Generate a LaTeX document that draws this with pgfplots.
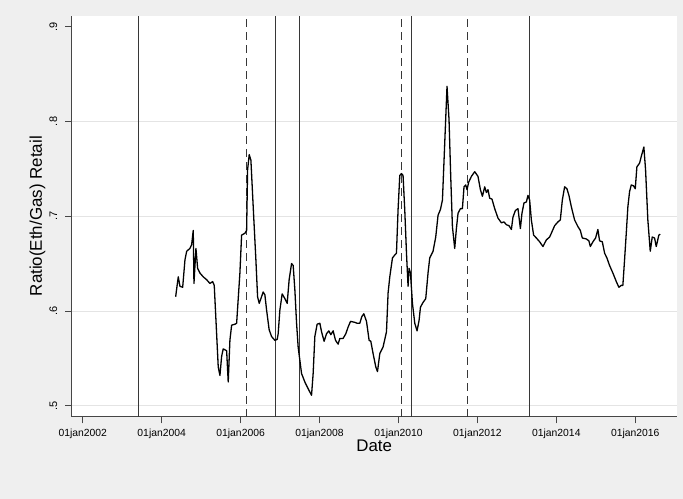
\documentclass[border=0pt]{standalone}
\usepackage{fontspec}
\setmainfont{Liberation Sans}
\usepackage{pgfplots}
\pgfplotsset{compat=1.18}
\definecolor{bggray}{RGB}{239,239,239}
\definecolor{gridgray}{RGB}{228,228,228}
\definecolor{axgray}{RGB}{70,70,70}
\definecolor{vlgray}{RGB}{55,55,55}
\begin{document}
\begin{tikzpicture}
\fill[bggray] (-71.7bp,-82.3bp) rectangle (611.3bp,416.7bp);
\begin{axis}[
  scale only axis,
  width=605bp, height=401bp,
  xmin=2001.72, xmax=2017.05,
  ymin=0.4884, ymax=0.9116,
  enlargelimits=false,
  axis background/.style={fill=white},
  axis lines*=left,
  axis line style={-, draw=axgray, line width=0.9bp},
  tick style={draw=axgray, line width=0.9bp},
  tick align=outside,
  major tick length=6.7bp,
  xtick={2002,2004,2006,2008,2010,2012,2014,2016},
  xticklabels={01jan2002,01jan2004,01jan2006,01jan2008,01jan2010,01jan2012,01jan2014,01jan2016},
  ytick={0.5,0.6,0.7,0.8},
  yticklabels={.5,.6,.7,.8},
  extra y ticks={0.9},
  extra y tick labels={.9},
  extra y tick style={ymajorgrids=false},
  ymajorgrids,
  major grid style={draw=gridgray, line width=0.9bp},
  xticklabel style={font=\fontsize{10.4}{12}\selectfont, anchor=north, inner sep=0pt},
  xticklabel shift=5bp,
  yticklabel style={font=\fontsize{11}{12}\selectfont, rotate=90, anchor=base, inner sep=0pt},
  yticklabel shift=8bp,
  /pgf/number format/assume math mode=true,
  xlabel={Date},
  xlabel style={font=\fontsize{16.9}{19}\selectfont, at={(axis description cs:0.5,-0.0880)}, anchor=base, inner sep=0pt},
  ylabel={Ratio(Eth/Gas) Retail},
  ylabel style={font=\fontsize{17}{19}\selectfont, at={(axis description cs:-0.0491,0.5)}, rotate=0, anchor=base, inner sep=0pt},
  clip=true,
]
% vertical event lines (solid)
\addplot[vlgray, line width=1bp] coordinates {(2003.41,0.4884) (2003.41,0.9116)};
\addplot[vlgray, line width=1bp] coordinates {(2006.886,0.4884) (2006.886,0.9116)};
\addplot[vlgray, line width=1bp] coordinates {(2007.494,0.4884) (2007.494,0.9116)};
\addplot[vlgray, line width=1bp] coordinates {(2010.337,0.4884) (2010.337,0.9116)};
\addplot[vlgray, line width=1bp] coordinates {(2013.324,0.4884) (2013.324,0.9116)};
% vertical event lines (dashed, reductions)
\addplot[vlgray, line width=1bp, dash pattern=on 8bp off 5bp] coordinates {(2006.159,0.4884) (2006.159,0.9116)};
\addplot[vlgray, line width=1bp, dash pattern=on 8bp off 5bp] coordinates {(2010.084,0.4884) (2010.084,0.9116)};
\addplot[vlgray, line width=1bp, dash pattern=on 8bp off 5bp] coordinates {(2011.747,0.4884) (2011.747,0.9116)};
% ratio series
\addplot[black, line width=1.3bp, line join=round] coordinates {
(2004.354,0.615) (2004.420,0.636) (2004.463,0.626) (2004.532,0.625) (2004.590,0.654)
(2004.633,0.663) (2004.716,0.666) (2004.759,0.670) (2004.800,0.685) (2004.818,0.629)
(2004.868,0.666) (2004.911,0.645) (2004.970,0.640) (2005.053,0.636) (2005.139,0.633)
(2005.223,0.629) (2005.291,0.631) (2005.332,0.627) (2005.392,0.576) (2005.433,0.541)
(2005.476,0.532) (2005.519,0.552) (2005.559,0.560) (2005.646,0.558) (2005.686,0.525)
(2005.729,0.569) (2005.772,0.585) (2005.856,0.586) (2005.899,0.587) (2005.982,0.640)
(2006.025,0.680) (2006.109,0.682) (2006.152,0.685) (2006.177,0.749) (2006.218,0.765)
(2006.261,0.759) (2006.319,0.710) (2006.387,0.654) (2006.430,0.615) (2006.471,0.608)
(2006.514,0.613) (2006.572,0.620) (2006.615,0.617) (2006.658,0.601) (2006.724,0.580)
(2006.785,0.573) (2006.868,0.569) (2006.927,0.570) (2006.952,0.576) (2006.995,0.601)
(2007.053,0.618) (2007.122,0.613) (2007.180,0.608) (2007.230,0.633) (2007.291,0.650)
(2007.332,0.648) (2007.375,0.622) (2007.418,0.587) (2007.458,0.562) (2007.544,0.534)
(2007.628,0.525) (2007.711,0.518) (2007.797,0.511) (2007.838,0.534) (2007.881,0.573)
(2007.939,0.586) (2008.008,0.587) (2008.051,0.578) (2008.116,0.568) (2008.177,0.576)
(2008.235,0.579) (2008.286,0.575) (2008.344,0.579) (2008.405,0.569) (2008.471,0.565)
(2008.514,0.571) (2008.597,0.571) (2008.666,0.576) (2008.724,0.583) (2008.785,0.589)
(2008.894,0.588) (2008.952,0.587) (2009.020,0.587) (2009.071,0.594) (2009.122,0.597)
(2009.190,0.589) (2009.256,0.569) (2009.299,0.568) (2009.357,0.555) (2009.425,0.541)
(2009.468,0.536) (2009.527,0.555) (2009.610,0.562) (2009.696,0.578) (2009.737,0.619)
(2009.780,0.636) (2009.848,0.656) (2009.906,0.659) (2009.949,0.661) (2009.990,0.707)
(2010.033,0.743) (2010.076,0.745) (2010.116,0.743) (2010.159,0.707) (2010.203,0.661)
(2010.243,0.626) (2010.268,0.645) (2010.304,0.640) (2010.354,0.608) (2010.413,0.587)
(2010.471,0.579) (2010.522,0.590) (2010.557,0.604) (2010.623,0.609) (2010.691,0.613)
(2010.749,0.640) (2010.792,0.656) (2010.876,0.663) (2010.944,0.678) (2011.003,0.701)
(2011.063,0.707) (2011.114,0.717) (2011.172,0.777) (2011.230,0.837) (2011.281,0.802)
(2011.324,0.742) (2011.367,0.689) (2011.425,0.666) (2011.468,0.687) (2011.509,0.703)
(2011.570,0.708) (2011.620,0.708) (2011.661,0.731) (2011.704,0.733) (2011.737,0.728)
(2011.780,0.736) (2011.848,0.742) (2011.932,0.747) (2012.015,0.742) (2012.076,0.728)
(2012.127,0.721) (2012.185,0.731) (2012.228,0.725) (2012.268,0.728) (2012.311,0.719)
(2012.370,0.718) (2012.438,0.708) (2012.522,0.698) (2012.608,0.693) (2012.673,0.694)
(2012.734,0.691) (2012.800,0.690) (2012.861,0.686) (2012.901,0.699) (2012.962,0.706)
(2013.028,0.708) (2013.089,0.687) (2013.129,0.703) (2013.180,0.714) (2013.241,0.715)
(2013.281,0.722) (2013.324,0.717) (2013.367,0.696) (2013.425,0.680) (2013.494,0.677)
(2013.577,0.673) (2013.661,0.668) (2013.747,0.675) (2013.830,0.678) (2013.873,0.682)
(2013.957,0.690) (2014.041,0.694) (2014.101,0.696) (2014.152,0.717) (2014.210,0.731)
(2014.268,0.729) (2014.319,0.722) (2014.380,0.710) (2014.463,0.696) (2014.547,0.689)
(2014.608,0.685) (2014.658,0.677) (2014.759,0.676) (2014.825,0.674) (2014.861,0.668)
(2014.927,0.673) (2014.995,0.677) (2015.053,0.686) (2015.096,0.674) (2015.165,0.673)
(2015.223,0.661) (2015.281,0.656) (2015.349,0.648) (2015.433,0.640) (2015.519,0.631)
(2015.585,0.625) (2015.646,0.627) (2015.686,0.627) (2015.729,0.654) (2015.772,0.682)
(2015.813,0.710) (2015.856,0.726) (2015.899,0.733) (2015.957,0.732) (2016.000,0.729)
(2016.041,0.752) (2016.109,0.756) (2016.152,0.763) (2016.218,0.773) (2016.261,0.749)
(2016.319,0.696) (2016.380,0.663) (2016.430,0.678) (2016.489,0.677) (2016.532,0.668)
(2016.597,0.680) (2016.633,0.681)
};
\node[anchor=base west, inner sep=0pt, font=\fontsize{13.8}{16}\selectfont]
  at (axis description cs:0.00545,-0.1429) {Dashed Line-Reductions};
\end{axis}
\end{tikzpicture}
\end{document}
